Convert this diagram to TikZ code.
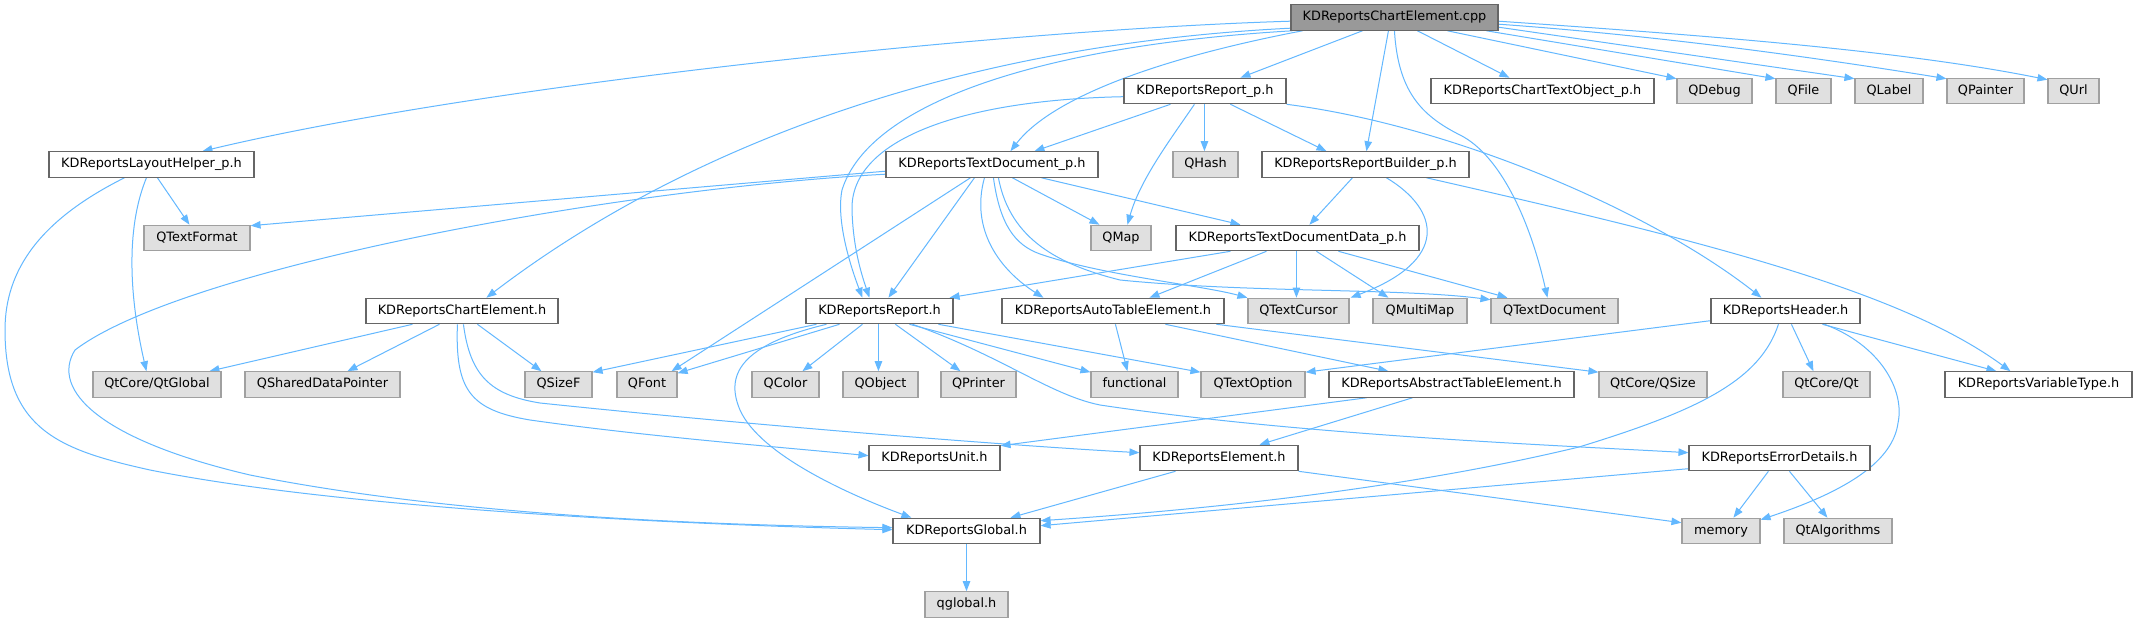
\documentclass[tikz,border=0pt]{standalone}
\usepackage{fontspec}
\setmainfont{DejaVu Sans}
\usetikzlibrary{arrows.meta}
\definecolor{edgec}{HTML}{63B8FF}
\definecolor{bordc}{HTML}{666666}
\definecolor{extbord}{HTML}{A0A0A0}
\definecolor{extfill}{HTML}{E0E0E0}
\definecolor{rootfill}{HTML}{999999}
\pgfdeclarelayer{edgelayer}
\pgfsetlayers{edgelayer,main}
\tikzset{
  filebox/.style={draw=bordc, fill=white, line width=0.85pt, minimum height=19.1pt, inner sep=0pt,
    text height=7pt, text depth=2pt, font=\fontsize{9.64pt}{11pt}\selectfont},
  extbox/.style={filebox, draw=extbord, fill=extfill},
  rootbox/.style={filebox, fill=rootfill},
  incl/.style={draw=edgec, line width=0.75pt, -{Triangle[length=7.5pt,width=5.6pt]}},
}
\begin{document}
\begin{tikzpicture}[x=0.75pt,y=-0.75pt]
\useasboundingbox (0,0) rectangle (2137,623);

% nodes
\node[rootbox, minimum width=155.25pt] (top) at (1394.5,17.5) {KDReportsChartElement.cpp};
\node[filebox, minimum width=153.75pt] (lh) at (151.5,164.5) {KDReportsLayoutHelper\_p.h};
\node[extbox, minimum width=79.5pt] (qtf) at (197,238) {QTextFormat};
\node[filebox, minimum width=144pt] (ceh) at (462,311) {KDReportsChartElement.h};
\node[filebox, minimum width=121.5pt] (rp) at (1205,91) {KDReportsReport\_p.h};
\node[filebox, minimum width=167.25pt] (cto) at (1542.5,91) {KDReportsChartTextObject\_p.h};
\node[extbox, minimum width=56.25pt] (qdebug) at (1714.5,91) {QDebug};
\node[extbox, minimum width=41.25pt] (qfile) at (1803.5,91) {QFile};
\node[extbox, minimum width=51pt] (qlabel) at (1889,91) {QLabel};
\node[extbox, minimum width=57.75pt] (qpainter) at (1985.5,91) {QPainter};
\node[extbox, minimum width=38.25pt] (qurl) at (2073.5,91) {QUrl};
\node[filebox, minimum width=159pt] (td) at (992,164.5) {KDReportsTextDocument\_p.h};
\node[extbox, minimum width=48.75pt] (qhash) at (1205.5,164.5) {QHash};
\node[filebox, minimum width=155.25pt] (rb) at (1365.5,164.5) {KDReportsReportBuilder\_p.h};
\node[extbox, minimum width=45pt] (qmap) at (1121,238) {QMap};
\node[filebox, minimum width=182.25pt] (tdd) at (1297.5,238) {KDReportsTextDocumentData\_p.h};
\node[filebox, minimum width=110.25pt] (rh) at (879.5,311) {KDReportsReport.h};
\node[filebox, minimum width=166.5pt] (at) at (1113,311) {KDReportsAutoTableElement.h};
\node[extbox, minimum width=75.75pt] (qtc) at (1298.5,311) {QTextCursor};
\node[extbox, minimum width=70.5pt] (qmm) at (1420,311) {QMultiMap};
\node[extbox, minimum width=95.25pt] (qtd) at (1554.5,311) {QTextDocument};
\node[filebox, minimum width=111.75pt] (hh) at (1785.5,311) {KDReportsHeader.h};
\node[extbox, minimum width=96pt] (qtg) at (157,384.5) {QtCore/QtGlobal};
\node[extbox, minimum width=116.25pt] (qsdp) at (322.5,384.5) {QSharedDataPointer};
\node[extbox, minimum width=50.25pt] (qsizef) at (558.5,384.5) {QSizeF};
\node[extbox, minimum width=45pt] (qfont) at (647,384.5) {QFont};
\node[extbox, minimum width=50.25pt] (qcolor) at (785.5,384.5) {QColor};
\node[extbox, minimum width=56.25pt] (qobject) at (880.5,384.5) {QObject};
\node[extbox, minimum width=56.25pt] (qprinter) at (978.5,384.5) {QPrinter};
\node[extbox, minimum width=65.25pt] (func) at (1134.5,384.5) {functional};
\node[extbox, minimum width=78pt] (qto) at (1253,384.5) {QTextOption};
\node[filebox, minimum width=183.75pt] (abt) at (1451.5,384.5) {KDReportsAbstractTableElement.h};
\node[extbox, minimum width=81pt] (qsize) at (1653,384.5) {QtCore/QSize};
\node[extbox, minimum width=65.25pt] (qtqt) at (1826.5,384.5) {QtCore/Qt};
\node[filebox, minimum width=140.25pt] (vt) at (2038.5,384.5) {KDReportsVariableType.h};
\node[filebox, minimum width=98.25pt] (unit) at (934.5,458) {KDReportsUnit.h};
\node[filebox, minimum width=118.5pt] (el) at (1219,458) {KDReportsElement.h};
\node[filebox, minimum width=135.75pt] (ed) at (1779.5,458) {KDReportsErrorDetails.h};
\node[filebox, minimum width=110.25pt] (gl) at (966.5,531) {KDReportsGlobal.h};
\node[extbox, minimum width=58.5pt] (memory) at (1721,531) {memory};
\node[extbox, minimum width=81pt] (qalg) at (1838,531) {QtAlgorithms};
\node[extbox, minimum width=62.25pt] (qglobal) at (966.5,604.5) {qglobal.h};

\begin{pgfonlayer}{edgelayer}
\fill[white] (0,0) rectangle (2137,623);
% from KDReportsChartElement.cpp
\draw[incl] ([shift={(0,17)}]top.north west) .. controls (1000,30) and (480,85) .. ([shift={(154,0)}]lh.north west);
\draw[incl] ([shift={(0,24)}]top.north west) .. controls (950,45) and (680,150) .. ([shift={(121,0)}]ceh.north west);
\draw[incl] ([shift={(2,0)}]top.south west) .. controls (1050,45) and (870,100) .. (842,190) .. controls (836,220) and (850,265) .. ([shift={(57,0)}]rh.north west);
\draw[incl] ([shift={(12,0)}]top.south west) .. controls (1150,60) and (1050,100) .. ([shift={(125,0)}]td.north west);
\draw[incl] ([shift={(72,0)}]top.south west) -- ([shift={(117,0)}]rp.north west);
\draw[incl] ([shift={(98,0)}]top.south west) -- ([shift={(105,0)}]rb.north west);
\draw[incl] ([shift={(104,0)}]top.south west) .. controls (1398,90) and (1420,115) .. (1460,135) .. controls (1500,155) and (1530,220) .. ([shift={(57,0)}]qtd.north west);
\draw[incl] ([shift={(127,0)}]top.south west) -- ([shift={(79,0)}]cto.north west);
\draw[incl] ([shift={(157,0)}]top.south west) -- ([shift={(0,1)}]qdebug.north west);
\draw[incl] ([shift={(196,0)}]top.south west) -- ([shift={(0,1)}]qfile.north west);
\draw[incl] ([shift={(0,23)}]top.north east) -- ([shift={(0,1)}]qlabel.north west);
\draw[incl] ([shift={(0,20)}]top.north east) .. controls (1650,35) and (1800,55) .. ([shift={(0,1)}]qpainter.north west);
\draw[incl] ([shift={(0,17)}]top.north east) .. controls (1700,35) and (1900,50) .. ([shift={(0,2)}]qurl.north west);
% from KDReportsReport_p.h
\draw[incl] ([shift={(0,19)}]rp.north west) .. controls (960,100) and (850,140) .. (852,210) .. controls (853,245) and (860,270) .. ([shift={(64,0)}]rh.north west);
\draw[incl] ([shift={(47,0)}]rp.south west) -- ([shift={(149,0)}]td.north west);
\draw[incl] ([shift={(71,0)}]rp.south west) .. controls (1170,140) and (1140,180) .. ([shift={(37,0)}]qmap.north west);
\draw[incl] ([shift={(81,0)}]rp.south west) -- ([shift={(32,0)}]qhash.north west);
\draw[incl] ([shift={(107,0)}]rp.south west) -- ([shift={(65,0)}]rb.north west);
\draw[incl] (rp.south east) .. controls (1450,125) and (1650,210) .. ([shift={(51,0)}]hh.north west);
% from KDReportsTextDocument_p.h
\draw[incl] ([shift={(0,20)}]td.north west) -- ([shift={(0,1)}]qtf.north east);
\draw[incl] ([shift={(0,23)}]td.north west) .. controls (600,190) and (180,270) .. (75,350) .. controls (50,390) and (100,440) .. (250,475) .. controls (450,515) and (700,525) .. ([shift={(0,10)}]gl.north west);
\draw[incl] ([shift={(89,0)}]td.south west) -- ([shift={(83,0)}]rh.north west);
\draw[incl] ([shift={(85,0)}]td.south west) -- ([shift={(-6,0)}]qfont.north east);
\draw[incl] ([shift={(99,0)}]td.south west) .. controls (970,230) and (1000,270) .. ([shift={(42,0)}]at.north west);
\draw[incl] ([shift={(108,0)}]td.south west) .. controls (1000,225) and (1015,245) .. (1040,254) .. controls (1100,275) and (1200,285) .. (qtc.north west);
\draw[incl] ([shift={(113,0)}]td.south west) .. controls (1010,240) and (1060,265) .. (1120,280) .. controls (1250,293) and (1400,288) .. ([shift={(0,2)}]qtd.north west);
\draw[incl] ([shift={(127,0)}]td.south west) -- ([shift={(9,0)}]qmap.north west);
\draw[incl] ([shift={(156,0)}]td.south west) -- ([shift={(65,0)}]tdd.north west);
% from KDReportsReportBuilder_p.h
\draw[incl] ([shift={(91,0)}]rb.south west) -- ([shift={(134,0)}]tdd.north west);
\draw[incl] ([shift={(125,0)}]rb.south west) .. controls (1440,210) and (1450,260) .. ([shift={(1,0)}]qtc.north east);
\draw[incl] ([shift={(165,0)}]rb.south west) .. controls (1700,240) and (1900,290) .. ([shift={(66,0)}]vt.north west);
% from KDReportsTextDocumentData_p.h
\draw[incl] ([shift={(55,0)}]tdd.south west) -- ([shift={(-4,0)}]rh.north east);
\draw[incl] ([shift={(91,0)}]tdd.south west) -- ([shift={(148,0)}]at.north west);
\draw[incl] ([shift={(121,0)}]tdd.south west) -- ([shift={(49,0)}]qtc.north west);
\draw[incl] ([shift={(141,0)}]tdd.south west) -- ([shift={(16,0)}]qmm.north west);
\draw[incl] ([shift={(163,0)}]tdd.south west) -- ([shift={(17,0)}]qtd.north west);
% from KDReportsReport.h
\draw[incl] ([shift={(11,0)}]rh.south west) -- ([shift={(0,1)}]qsizef.north east);
\draw[incl] ([shift={(34,0)}]rh.south west) -- ([shift={(0,2)}]qfont.north east);
\draw[incl] ([shift={(57,0)}]rh.south west) -- ([shift={(51,0)}]qcolor.north west);
\draw[incl] ([shift={(73,0)}]rh.south west) -- ([shift={(36,0)}]qobject.north west);
\draw[incl] ([shift={(90,0)}]rh.south west) -- ([shift={(20,0)}]qprinter.north west);
\draw[incl] ([shift={(104,0)}]rh.south west) -- ([shift={(0,1)}]func.north west);
\draw[incl] ([shift={(133,0)}]rh.south west) -- ([shift={(0,1)}]qto.north west);
\draw[incl] ([shift={(21,0)}]rh.south west) .. controls (740,345) and (725,375) .. (740,410) .. controls (760,455) and (850,495) .. ([shift={(19,0)}]gl.north west);
\draw[incl] ([shift={(107,0)}]rh.south west) .. controls (1000,355) and (1050,395) .. (1100,405) .. controls (1300,435) and (1550,445) .. ([shift={(0,8)}]ed.north west);
% from KDReportsAutoTableElement.h
\draw[incl] ([shift={(114,0)}]at.south west) -- ([shift={(37,0)}]func.north west);
\draw[incl] ([shift={(164,0)}]at.south west) -- ([shift={(60,0)}]abt.north west);
\draw[incl] ([shift={(215,0)}]at.south west) -- ([shift={(0,1)}]qsize.north west);
% from KDReportsAbstractTableElement.h
\draw[incl] ([shift={(38,0)}]abt.south west) -- ([shift={(0,1)}]unit.north east);
\draw[incl] ([shift={(84,0)}]abt.south west) -- ([shift={(120,0)}]el.north west);
% from KDReportsChartElement.h
\draw[incl] ([shift={(47,0)}]ceh.south west) -- ([shift={(117,0)}]qtg.north west);
\draw[incl] ([shift={(74,0)}]ceh.south west) -- ([shift={(103,0)}]qsdp.north west);
\draw[incl] ([shift={(112,0)}]ceh.south west) -- ([shift={(17,0)}]qsizef.north west);
\draw[incl] ([shift={(92,0)}]ceh.south west) .. controls (455,390) and (470,410) .. (530,420) .. controls (650,437) and (780,447) .. ([shift={(0,11)}]unit.north west);
\draw[incl] ([shift={(98,0)}]ceh.south west) .. controls (470,375) and (490,395) .. (540,403) .. controls (750,425) and (1000,445) .. ([shift={(0,8)}]el.north west);
% from KDReportsLayoutHelper_p.h
\draw[incl] ([shift={(109,0)}]lh.south west) -- ([shift={(46,0)}]qtf.north west);
\draw[incl] ([shift={(98,0)}]lh.south west) .. controls (125,230) and (130,300) .. ([shift={(54,0)}]qtg.north west);
\draw[incl] ([shift={(76,0)}]lh.south west) .. controls (40,220) and (5,270) .. (5,330) .. controls (5,430) and (60,450) .. (150,470) .. controls (350,510) and (700,525) .. ([shift={(0,12)}]gl.north west);
% from KDReportsGlobal.h
\draw[incl] (gl.south) -- (qglobal.north);
% from KDReportsElement.h
\draw[incl] ([shift={(36,0)}]el.south west) -- ([shift={(118,0)}]gl.north west);
\draw[incl] (el.south east) -- ([shift={(0,5)}]memory.north west);
% from KDReportsHeader.h
\draw[incl] ([shift={(0,23)}]hh.north west) -- ([shift={(0,1)}]qto.north east);
\draw[incl] ([shift={(68,0)}]hh.south west) .. controls (1760,380) and (1700,410) .. (1579,447) .. controls (1400,490) and (1200,510) .. ([shift={(0,3)}]gl.north east);
\draw[incl] ([shift={(81,0)}]hh.south west) -- ([shift={(31,0)}]qtqt.north west);
\draw[incl] ([shift={(112,0)}]hh.south west) -- ([shift={(52,0)}]vt.north west);
\draw[incl] ([shift={(114,0)}]hh.south west) .. controls (1880,345) and (1905,390) .. (1898,423) .. controls (1893,460) and (1850,490) .. ([shift={(0,2)}]memory.north east);
% from KDReportsErrorDetails.h
\draw[incl] ([shift={(0,24)}]ed.north west) -- ([shift={(0,8)}]gl.north east);
\draw[incl] ([shift={(80,0)}]ed.south west) -- ([shift={(52,0)}]memory.north west);
\draw[incl] ([shift={(101,0)}]ed.south west) -- ([shift={(44,0)}]qalg.north west);
\end{pgfonlayer}
\end{tikzpicture}
\end{document}
